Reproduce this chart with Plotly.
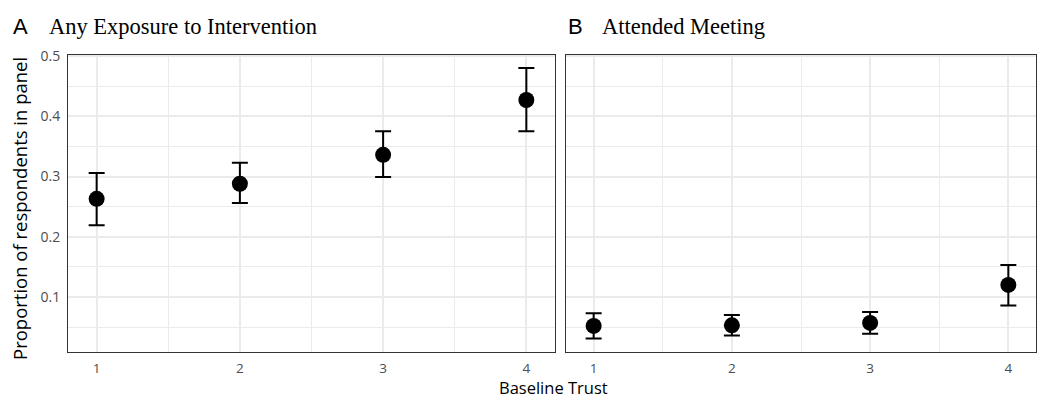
import plotly.graph_objects as go

trust = [1, 2, 3, 4]
exposure_mean = [0.263, 0.288, 0.336, 0.427]
exposure_low = [0.219, 0.256, 0.299, 0.375]
exposure_high = [0.306, 0.323, 0.375, 0.480]
meeting_mean = [0.052, 0.053, 0.057, 0.120]
meeting_low = [0.031, 0.036, 0.039, 0.086]
meeting_high = [0.073, 0.070, 0.075, 0.153]

panel_letters = ["A", "B"]
panel_titles = ["Any Exposure to Intervention", "Attended Meeting"]

W, H = 1039, 399
ML, MR, MT, MB = 68, 3, 55, 47

fig = go.Figure()

def add_panel(means, lows, highs, xa, ya):
    fig.add_trace(go.Scatter(
        x=trust, y=means, mode="markers", xaxis=xa, yaxis=ya,
        marker=dict(color="black", size=16),
        error_y=dict(type="data", symmetric=False,
                     array=[h - m for h, m in zip(highs, means)],
                     arrayminus=[m - l for m, l in zip(means, lows)],
                     color="black", thickness=2, width=8),
        showlegend=False,
    ))

add_panel(exposure_mean, exposure_low, exposure_high, "x", "y")
add_panel(meeting_mean, meeting_low, meeting_high, "x2", "y2")

grid = "#ebebeb"
tickfont = dict(family="Open Sans", size=14, color="#4d4d4d")
xtickfont = dict(family="Open Sans", size=13.5, color="#4d4d4d")
xcommon = dict(range=[0.8, 4.2], tickmode="linear", tick0=1, dtick=1,
               showgrid=True, gridcolor=grid, gridwidth=1.5,
               minor=dict(showgrid=True, gridcolor=grid, gridwidth=0.8, dtick=0.5, tick0=1),
               showline=True, linecolor="#333333", linewidth=1, mirror=True,
               ticks="", zeroline=False, ticklabelstandoff=4,
               tickfont=xtickfont)
ycommon = dict(range=[0.0087, 0.5017], tickmode="linear", tick0=0.1, dtick=0.1,
               showgrid=True, gridcolor=grid, gridwidth=1.5,
               minor=dict(showgrid=True, gridcolor=grid, gridwidth=0.8, dtick=0.05, tick0=0.05),
               showline=True, linecolor="#333333", linewidth=1, mirror=True,
               ticks="", zeroline=False)

fig.update_layout(
    width=W, height=H,
    margin=dict(l=ML, r=MR, t=MT, b=MB),
    paper_bgcolor="white", plot_bgcolor="white",
    xaxis=dict(domain=[0, 487 / (W - ML - MR)], anchor="y", **xcommon),
    yaxis=dict(domain=[0, 1], anchor="x", tickfont=tickfont, ticklabelstandoff=4, **ycommon),
    xaxis2=dict(domain=[(566 - ML) / (W - ML - MR), 1], anchor="y2", **xcommon),
    yaxis2=dict(domain=[0, 1], anchor="x2", showticklabels=False, **ycommon),
)

def px(x):
    return (x - ML) / (W - ML - MR)

def py(y):
    return (H - MB - y) / (H - MT - MB)

annotations = [
    dict(text="Baseline Trust", x=px(553), y=py(387.5), xref="paper", yref="paper",
         xanchor="center", yanchor="middle", showarrow=False,
         font=dict(family="Open Sans", size=16.5, color="black")),
    dict(text="Proportion of respondents in panel", x=px(19), y=py(209),
         xref="paper", yref="paper", textangle=-90, xanchor="center",
         yanchor="middle", showarrow=False,
         font=dict(family="Open Sans", size=18.5, color="black")),
]
letter_x = [11, 566]
title_x = [47, 600]
for lx, tx, letter, title in zip(letter_x, title_x, panel_letters, panel_titles):
    annotations.append(dict(text=letter, x=px(lx), y=py(27), xref="paper",
                            yref="paper", xanchor="left", yanchor="middle", showarrow=False,
                            font=dict(family="Liberation Sans", size=22, color="black")))
    annotations.append(dict(text=title, x=px(tx), y=py(27), xref="paper",
                            yref="paper", xanchor="left", yanchor="middle", showarrow=False,
                            font=dict(family="Liberation Serif", size=22.5, color="black")))
fig.update_layout(annotations=annotations)

fig.write_html("out.html")
